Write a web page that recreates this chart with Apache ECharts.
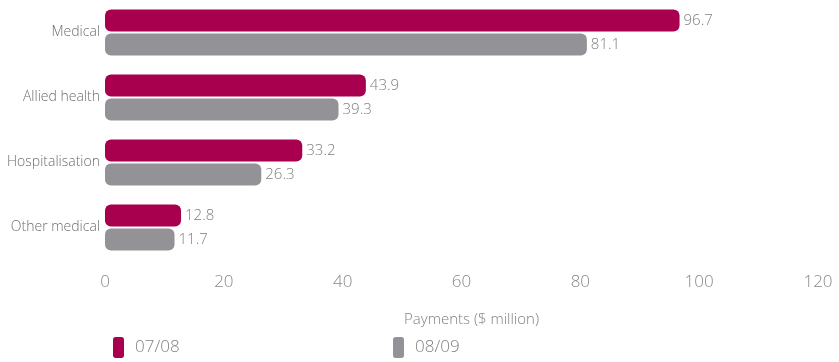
<!DOCTYPE html>
<html>
<head>
<meta charset="utf-8">
<script src="https://cdn.jsdelivr.net/npm/echarts@6/dist/echarts.min.js"></script>
<style>
  html, body { margin: 0; padding: 0; background: #fff; }
  #chart { width: 839px; height: 362px; }
</style>
</head>
<body>
<div id="chart"></div>
<script>
// Payment categories, top to bottom
const categories = ['Medical', 'Allied health', 'Hospitalisation', 'Other medical'];
// Payments in $ million per year
const payments0708 = [96.7, 43.9, 33.2, 12.8];
const payments0809 = [81.1, 39.3, 26.3, 11.7];
const seriesNames = ['07/08', '08/09'];
const xTicks = { min: 0, max: 120, interval: 20 };

const MAGENTA = '#a8004f';
const GREY = '#939297';
const TEXT = '#808080';
const FONT = '"Open Sans", "DejaVu Sans", sans-serif';

const chart = echarts.init(document.getElementById('chart'));

const barLabel = {
  show: true,
  position: 'right',
  distance: 4,
  color: TEXT,
  fontFamily: FONT,
  fontSize: 15,
  fontWeight: 300,
  formatter: p => p.value.toFixed(1)
};

const legendText = { color: TEXT, fontSize: 17, fontWeight: 300, fontFamily: FONT, padding: [5, 0, 0, 6] };

chart.setOption({
  animation: false,
  textStyle: { fontFamily: FONT },
  grid: { left: 105, right: 21, top: 0, height: 260, containLabel: false },
  legend: [
    {
      data: [seriesNames[0]],
      left: 108, top: 332,
      itemWidth: 11, itemHeight: 21,
      icon: 'roundRect',
      textStyle: legendText
    },
    {
      data: [seriesNames[1]],
      left: 388, top: 332,
      itemWidth: 11, itemHeight: 21,
      icon: 'roundRect',
      textStyle: legendText
    }
  ],
  xAxis: {
    type: 'value',
    min: xTicks.min, max: xTicks.max, interval: xTicks.interval,
    name: 'Payments ($ million)',
    nameLocation: 'middle',
    nameGap: 52,
    nameTextStyle: { color: TEXT, fontSize: 15, fontWeight: 300, fontFamily: FONT, padding: [0, 0, 0, 20] },
    axisLine: { show: false },
    axisTick: { show: false },
    splitLine: { show: false },
    axisLabel: { color: '#888', fontSize: 17, fontWeight: 300, fontFamily: FONT, margin: 14 }
  },
  yAxis: {
    type: 'category',
    data: categories,
    inverse: true,
    axisLine: { show: false },
    axisTick: { show: false },
    axisLabel: { color: '#6e6e6e', fontSize: 14, fontWeight: 300, fontFamily: FONT, margin: 5 }
  },
  series: [
    {
      name: seriesNames[0],
      type: 'bar',
      data: payments0708,
      barWidth: 22,
      barGap: '10%',
      itemStyle: { color: MAGENTA, borderRadius: 6 },
      label: barLabel
    },
    {
      name: seriesNames[1],
      type: 'bar',
      data: payments0809,
      barWidth: 22,
      itemStyle: { color: GREY, borderRadius: 6 },
      label: barLabel
    }
  ]
});
</script>
</body>
</html>
